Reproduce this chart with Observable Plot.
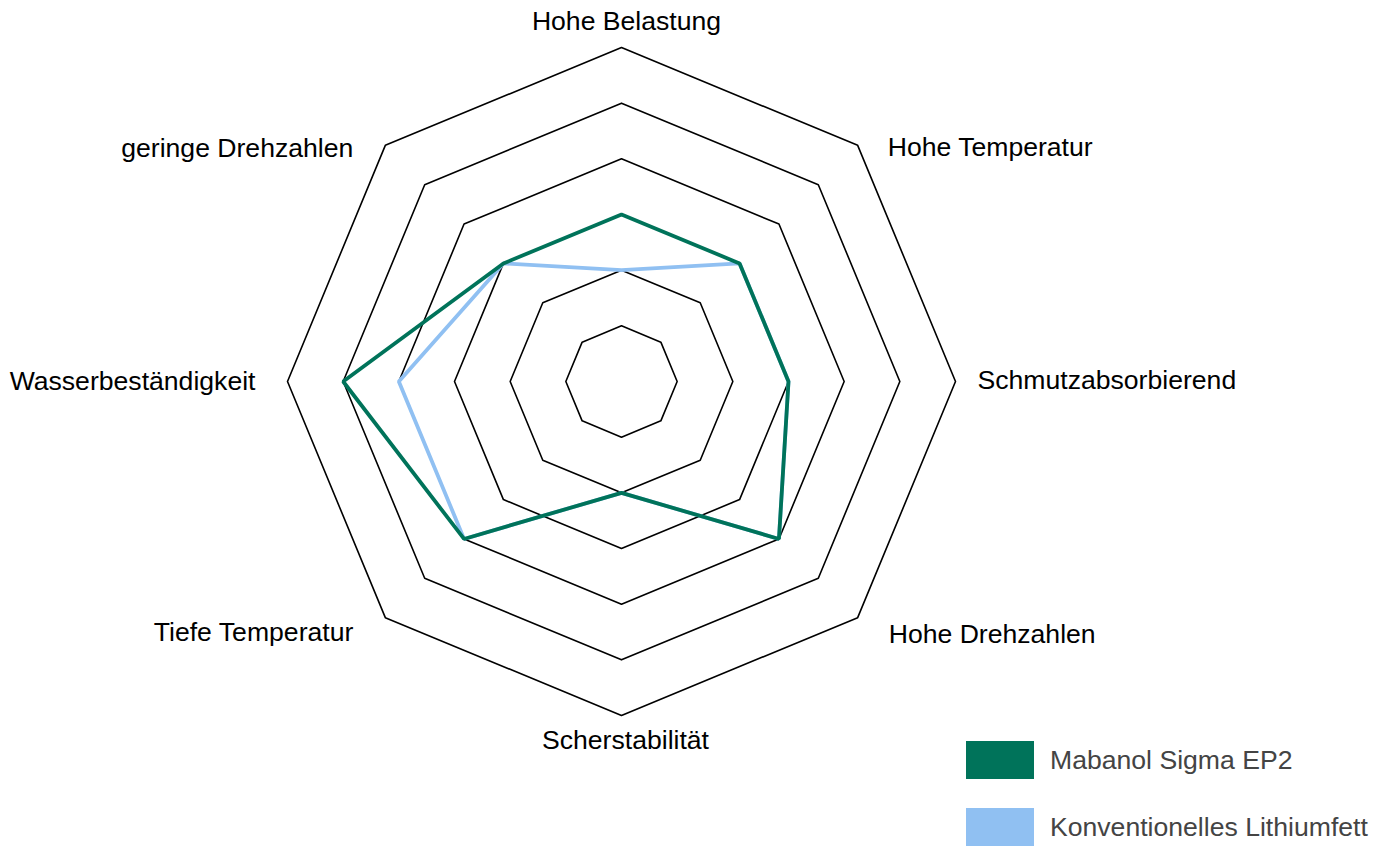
<!DOCTYPE html>
<html>
<head>
<meta charset="utf-8">
<script src="https://cdn.jsdelivr.net/npm/d3@7"></script>
<script src="https://cdn.jsdelivr.net/npm/@observablehq/plot@0.6"></script>
<style>
  html, body { margin: 0; padding: 0; background: #fff; }
  #wrap { position: relative; width: 1387px; height: 848px; font-family: "Liberation Sans", Arial, sans-serif; }
  #legend { position: absolute; left: 966px; top: 741px; }
  .item { display: flex; align-items: center; height: 38px; margin-bottom: 29px; }
  .sw { width: 68px; height: 38px; margin-right: 16px; }
  .lab { font-size: 26.6px; color: #444; white-space: nowrap; }
</style>
</head>
<body>
<div id="wrap"></div>
<script>
// ---- data ----
const categories = [
  "Hohe Belastung", "Hohe Temperatur", "Schmutzabsorbierend", "Hohe Drehzahlen",
  "Scherstabilität", "Tiefe Temperatur", "Wasserbeständigkeit", "geringe Drehzahlen"
];
const seriesNames = ["Mabanol Sigma EP2", "Konventionelles Lithiumfett"];
const mabanol = [3, 3, 3, 4, 2, 4, 5, 3];
const lithium = [2, 3, 3, 4, 2, 4, 4, 3];
const ringLevels = [1, 2, 3, 4, 5, 6];
const maxLevel = 6;

// ---- styles ----
const colors = ["#00735a", "#90c0f2"];
const n = categories.length;
const ang = i => (i * 2 * Math.PI) / n;
const px = (r, i) => r * Math.sin(ang(i));
const py = (r, i) => r * Math.cos(ang(i));

// ring polygons
const rings = ringLevels.flatMap(lv => categories.map((c, i) => ({lv, x: px(lv, i), y: py(lv, i)})));
const seriesData = [
  ...lithium.map((v, i) => ({s: seriesNames[1], x: px(v, i), y: py(v, i)})),
  ...mabanol.map((v, i) => ({s: seriesNames[0], x: px(v, i), y: py(v, i)}))
];

// label placement (anchor + pixel offsets from outer vertex)
const labelStyle = [
  {a: "middle", dx: 5, dy: -26},
  {a: "start", dx: 30, dy: 2},
  {a: "start", dx: 22, dy: -1},
  {a: "start", dx: 31, dy: 17},
  {a: "middle", dx: 4, dy: 25},
  {a: "end", dx: -32, dy: 15},
  {a: "end", dx: -32, dy: 0},
  {a: "end", dx: -32, dy: 3}
];
const labelMarks = categories.map((c, i) =>
  Plot.text([c], {
    x: () => px(maxLevel, i), y: () => py(maxLevel, i), text: d => d,
    textAnchor: labelStyle[i].a, dx: labelStyle[i].dx, dy: labelStyle[i].dy,
    fontSize: 26.6, fill: "#000", fontFamily: "Liberation Sans, Arial, sans-serif"
  })
);

const chart = Plot.plot({
  width: 1387,
  height: 848,
  marginLeft: 287, marginRight: 432,
  marginTop: 47, marginBottom: 133,
  x: {domain: [-maxLevel, maxLevel], axis: null},
  y: {domain: [-maxLevel, maxLevel], axis: null},
  style: {background: "#fff", overflow: "visible"},
  marks: [
    Plot.line(rings, {x: "x", y: "y", z: "lv", curve: "linear-closed", stroke: "#000", strokeWidth: 1.6}),
    Plot.line(seriesData, {
      x: "x", y: "y", z: "s", curve: "linear-closed",
      stroke: d => d.s, strokeWidth: 3.8, strokeLinejoin: "miter"
    }),
    ...labelMarks
  ],
  color: {domain: seriesNames, range: colors}
});

const wrap = document.getElementById("wrap");
wrap.appendChild(chart);

const legend = document.createElement("div");
legend.id = "legend";
seriesNames.forEach((s, i) => {
  const it = document.createElement("div");
  it.className = "item";
  const sw = document.createElement("div");
  sw.className = "sw";
  sw.style.background = colors[i];
  const lb = document.createElement("div");
  lb.className = "lab";
  lb.textContent = s;
  it.appendChild(sw); it.appendChild(lb);
  legend.appendChild(it);
});
wrap.appendChild(legend);
</script>
</body>
</html>
